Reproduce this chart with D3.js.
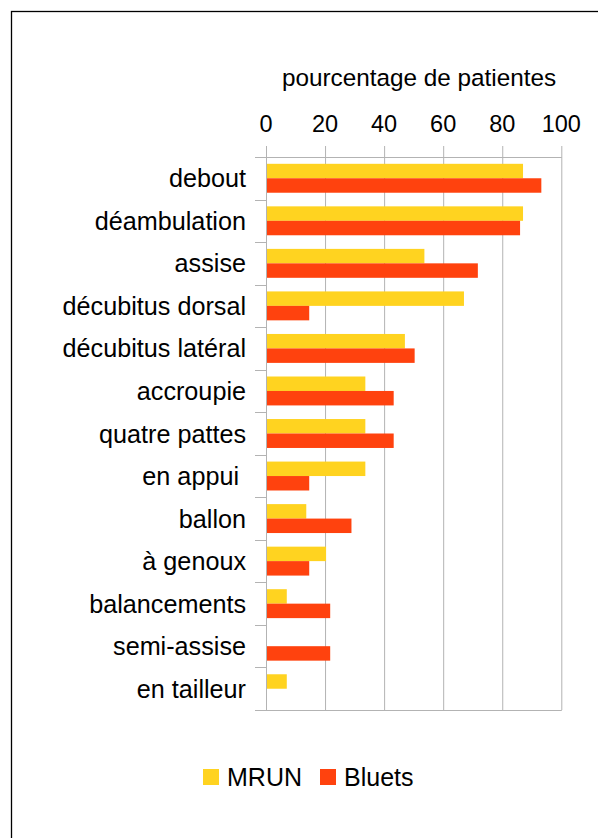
<!DOCTYPE html>
<html>
<head>
<meta charset="utf-8">
<script src="https://cdn.jsdelivr.net/npm/d3@7"></script>
<style>
  body { margin: 0; background: #fff; }
  svg { display: block; font-family: "Liberation Sans", Arial, sans-serif; }
</style>
</head>
<body>
<div id="chart"></div>
<script>
// categories, top to bottom
var positions = ["debout", "déambulation", "assise", "décubitus dorsal", "décubitus latéral",
  "accroupie", "quatre pattes", "en appui ", "ballon", "à genoux", "balancements",
  "semi-assise", "en tailleur"];
var mrun   = [86.7, 86.7, 53.3, 66.7, 46.7, 33.3, 33.3, 33.3, 13.3, 20, 6.7, 0, 6.7];
var bluets = [92.9, 85.7, 71.4, 14.3, 50, 42.9, 42.9, 14.3, 28.6, 14.3, 21.4, 21.4, 0];
var seriesNames = ["MRUN", "Bluets"];
var seriesColors = ["#ffd320", "#ff420e"];
var xTicks = [0, 20, 40, 60, 80, 100];
var axisTitle = "pourcentage de patientes";

var W = 598, H = 838;
var svg = d3.select("#chart").append("svg").attr("width", W).attr("height", H);

// outer frame (right and bottom edges fall outside the picture)
svg.append("rect").attr("x", 11.5).attr("y", 11.5).attr("width", 620).attr("height", 840)
  .attr("fill", "none").attr("stroke", "#000").attr("stroke-width", 1.3);

var x = d3.scaleLinear().domain([0, 100]).range([266, 561.3]);
var y = d3.scaleBand().domain(positions).range([157, 710]).paddingInner(0.32).paddingOuter(0.16);
var sub = d3.scaleBand().domain(seriesNames).range([0, y.bandwidth()]);

var grid = "#b3b3b3";

// vertical gridlines with ticks above
svg.append("g").selectAll("line").data(xTicks).enter().append("line")
  .attr("x1", function(d){ return x(d) + 0.5; }).attr("x2", function(d){ return x(d) + 0.5; })
  .attr("y1", 146).attr("y2", 710)
  .attr("stroke", grid).attr("stroke-width", 1);

// top and bottom horizontal lines
[157, 710].forEach(function(yy){
  svg.append("line").attr("x1", 255).attr("x2", x(100) + 0.5)
    .attr("y1", yy + 0.5).attr("y2", yy + 0.5).attr("stroke", grid);
});

// category ticks
var bounds = positions.map(function(p){ return y(p) - y.step() * 0.16; });
bounds.push(710);
svg.append("g").selectAll("line").data(bounds).enter().append("line")
  .attr("x1", 255).attr("x2", 266)
  .attr("y1", function(d){ return Math.round(d) + 0.5; }).attr("y2", function(d){ return Math.round(d) + 0.5; })
  .attr("stroke", grid);

// bars
var rows = positions.map(function(p, i){ return {cat: p, vals: [mrun[i], bluets[i]]}; });
var groups = svg.append("g").selectAll("g").data(rows).enter().append("g")
  .attr("transform", function(d){ return "translate(0," + y(d.cat) + ")"; });
groups.selectAll("rect").data(function(d){
    return d.vals.map(function(v, j){ return {name: seriesNames[j], v: v, c: seriesColors[j]}; });
  }).enter().append("rect")
  .attr("x", x(0) + 1)
  .attr("y", function(d){ return sub(d.name); })
  .attr("width", function(d){ return Math.max(0, x(d.v) - x(0)); })
  .attr("height", sub.bandwidth())
  .attr("fill", function(d){ return d.c; });

// left axis line
svg.append("line").attr("x1", x(0) + 0.5).attr("x2", x(0) + 0.5)
  .attr("y1", 157).attr("y2", 710).attr("stroke", grid);

// category labels
svg.append("g").selectAll("text").data(positions).enter().append("text")
  .attr("x", 246).attr("y", function(d){ return y(d) + y.bandwidth() / 2 + 9; })
  .attr("text-anchor", "end").attr("font-size", 25.2).attr("fill", "#000")
  .style("white-space", "pre")
  .text(function(d){ return d; });

// tick labels
svg.append("g").selectAll("text").data(xTicks).enter().append("text")
  .attr("x", function(d){ return x(d); }).attr("y", 132)
  .attr("text-anchor", "middle").attr("font-size", 23.5).attr("fill", "#000")
  .text(function(d){ return d; });

// axis title
svg.append("text").attr("x", 419).attr("y", 86)
  .attr("text-anchor", "middle").attr("font-size", 24.3).attr("fill", "#000")
  .text(axisTitle);

// legend
var legX = [203, 320];
seriesNames.forEach(function(n, i){
  svg.append("rect").attr("x", legX[i]).attr("y", 769).attr("width", 16).attr("height", 16)
    .attr("fill", seriesColors[i]);
  svg.append("text").attr("x", legX[i] + 24).attr("y", 786)
    .attr("font-size", 25).attr("fill", "#000").text(n);
});
</script>
</body>
</html>
